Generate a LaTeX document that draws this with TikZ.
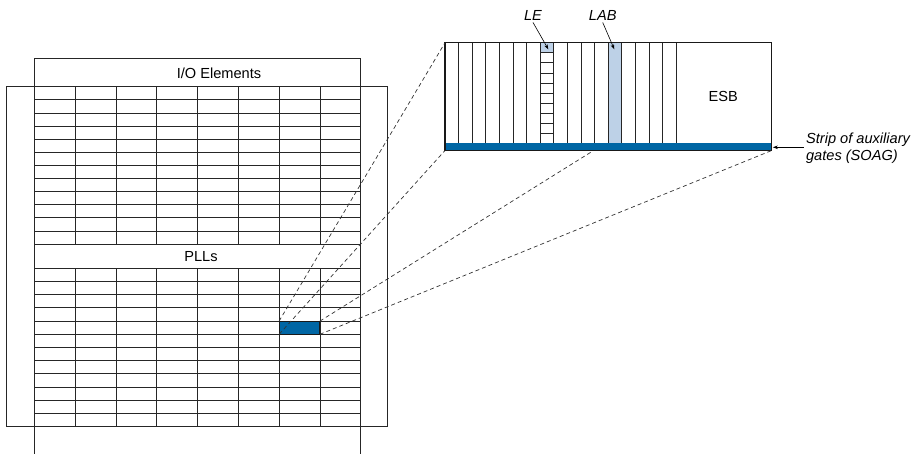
\documentclass[tikz,border=0pt]{standalone}
\usepackage{fontspec}
\setmainfont{Liberation Sans}
\usetikzlibrary{arrows.meta}
\definecolor{stripblue}{HTML}{0066A4}
\definecolor{lightblue}{HTML}{BDD1E7}
\begin{document}
\begin{tikzpicture}[x=1pt,y=-1pt, line width=0.8pt,
  font=\fontsize{14.6}{17}\selectfont,
  gridline/.style={line width=0.8pt, draw=black!85},
  lbl/.style={font=\fontsize{14.6}{16.7}\selectfont\itshape, inner sep=2pt},
  txt/.style={font=\fontsize{14.6}{17}\selectfont, inner sep=0pt},
  dashline/.style={dash pattern=on 4pt off 3pt, line width=0.7pt, draw=black!80},
  ptr/.style={-{Stealth[length=5pt,width=3.5pt]}, line width=0.6pt},
  boxline/.style={line width=1.5pt, draw=black!90}]
\useasboundingbox (0,0) rectangle (916,454);

% ---- chip (left) ----
\draw[gridline] (34.3,454) -- (34.3,58.3) -- (360.7,58.3) -- (360.7,454);
\draw[gridline] (6.7,86.7) rectangle (387.3,426.7);
\node[txt] (io) at (219,73) {I/O Elements};

% top grid
\foreach \i in {0,...,12}
  \draw[gridline] (34.3,86.7+\i*13.11) -- (360.7,86.7+\i*13.11);
\foreach \j in {1,...,7}
  \draw[gridline] (34.3+\j*40.8,86.7) -- (34.3+\j*40.8,244);

% PLLs band
\node[txt] (plls) at (201,256.3) {PLLs};

% bottom grid
\foreach \i in {0,...,11}
  \draw[gridline] (34.3,268.3+\i*13.2) -- (360.7,268.3+\i*13.2);
\foreach \j in {1,...,7}
  \draw[gridline] (34.3+\j*40.8,268.3) -- (34.3+\j*40.8,426.7);

% highlighted cell
\node[draw=black!90, line width=1pt, fill=stripblue, minimum width=40.8pt, minimum height=13.2pt,
  inner sep=0pt, outer sep=0pt, anchor=north west] (cell) at (279.1,321.1) {};

% ---- zoomed view (right) ----
\path node[minimum width=326.7pt, minimum height=107.8pt, inner sep=0pt, outer sep=0pt,
  anchor=north west] (zoom) at (445,42.7) {};
\coordinate (zmid) at (592,151.5);
\fill[stripblue] (445,143.3) rectangle (771.7,150.5);
\fill[lightblue] (608.2,42.7) rectangle (621.8,143.3);
\fill[lightblue] (540.2,42.7) rectangle (553.8,52.8);
\foreach \k in {1,...,17}
  \draw[line width=0.7pt, draw=black!85] (445+\k*13.6,42.7) -- (445+\k*13.6,143.3);
\foreach \i in {1,...,9}
  \draw[line width=0.7pt, draw=black!85] (540.2,42.7+\i*10.06) -- (553.8,42.7+\i*10.06);
\draw[boxline] (zoom.north west) rectangle (zoom.south east);
\node[txt] (esb) at (723.3,96.7) {ESB};

% labels
\node[lbl] (le) at (533,15) {LE};
\node[lbl] (lab) at (602.7,15) {LAB};
\coordinate (letip) at (548.3,49.3);
\coordinate (labtip) at (614.3,49.3);
\draw[ptr] (le.south) -- (letip);
\draw[ptr] (lab.south) -- (labtip);

\node[lbl, align=left, anchor=west] (soag) at (803.7,148.3) {Strip of auxiliary\\gates (SOAG)};
\coordinate (soagtip) at (772.8,147.3);
\draw[ptr] (soag.west |- soagtip) -- (soagtip);

% dashed projection lines
\draw[dashline] (cell.north west) -- (zoom.north west);
\draw[dashline] (cell.south west) -- (zoom.south west);
\draw[dashline] (cell.north east) -- (zmid);
\draw[dashline] (cell.south east) -- (zoom.south east);
\end{tikzpicture}
\end{document}
